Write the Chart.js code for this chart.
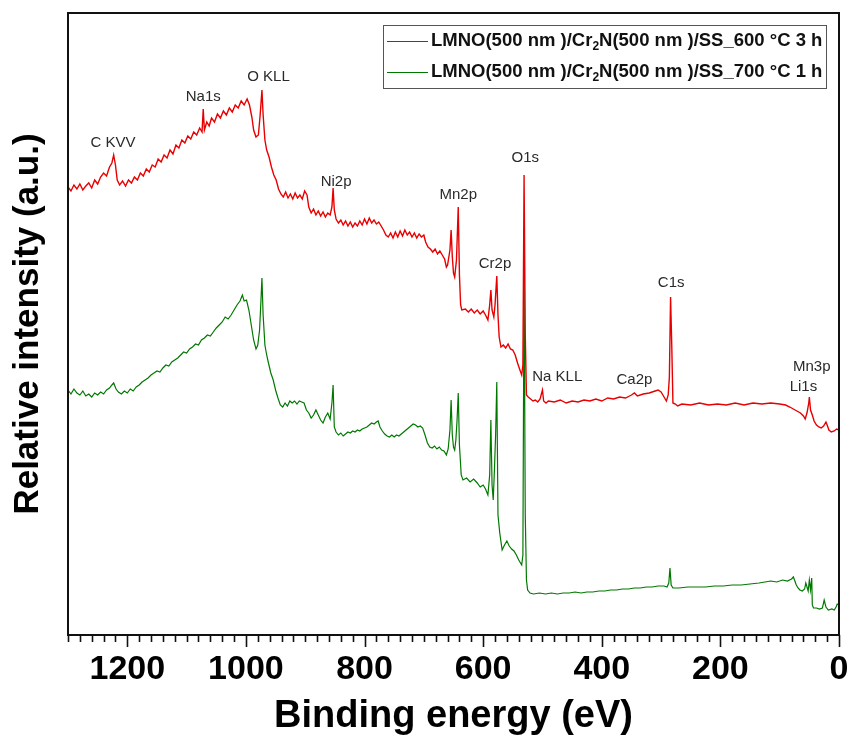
<!DOCTYPE html>
<html><head><meta charset="utf-8">
<script src="https://cdn.jsdelivr.net/npm/chart.js@4.4.1/dist/chart.umd.min.js"></script>
<style>html,body{margin:0;padding:0;background:#fff;}canvas{display:block;}</style>
</head><body>
<canvas id="c" width="849" height="740"></canvas>
<script>
// ---- data (binding energy in eV, intensity in arbitrary units) ----
const seriesNames = ['LMNO(500 nm )/Cr\u2082N(500 nm )/SS_600 \u00B0C 3 h',
                     'LMNO(500 nm )/Cr\u2082N(500 nm )/SS_700 \u00B0C 1 h'];
const xTickLabels = [1200, 1000, 800, 600, 400, 200, 0];

const energyRed = [
1300,1295,1290,1285,1280,1275,1270,1265,1260,1255,
1250,1245,1240,1235,1230,1226,1223,1220,1217,1213,
1208,1203,1198,1193,1188,1183,1178,1173,1168,1163,
1158,1153,1148,1143,1138,1133,1128,1123,1118,1113,
1108,1103,1098,1093,1088,1083,1078,1074,1072,1070,
1066,1062,1058,1053,1048,1043,1038,1033,1028,1023,
1018,1013,1008,1003,998,994,990,987,983,979,
976,973,971,968,965,961,957,953,949,945,
941,937,933,929,925,921,917,913,909,905,
901,897,894,890,886,882,878,874,870,866,
862,858,855,853,851,848,844,840,836,832,
828,824,820,816,812,808,804,800,796,792,
788,784,780,776,772,768,764,760,756,752,
748,744,740,736,732,728,724,720,716,712,
708,704,700,697,693,689,685,681,677,673,
669,665,662,660,656,654,652,650,648,645,
642,640,638,636,630,625,620,615,610,605,
600,596,592,589,587,585,582,580,577,575,
573,570,566,562,558,554,550,546,542,538,
535,533,531,529,527,524,520,516,512,508,
504,500,498,494,490,480,470,460,450,440,
430,420,410,400,390,380,370,360,350,345,
340,330,320,310,305,300,295,291,288,286,
284,282,280,276,272,265,250,235,220,205,
190,175,160,145,130,115,100,90,83,77,
71,65,60,57,54,51,50,48,45,42,
38,34,30,26,22,20,17,13,8,4,
0];
const intensityRed = [
448,444,450,446,451,445,449,452,447,455,
451,458,462,459,468,472,480,470,455,450,
454,449,455,452,458,455,462,459,466,463,
470,468,476,473,480,477,485,481,490,487,
495,492,499,496,503,500,507,503,526,505,
513,509,517,513,521,517,524,520,527,523,
530,527,534,530,536,530,518,505,498,500,
520,545,520,495,485,478,468,460,455,446,
441,438,443,437,441,436,442,437,440,436,
444,440,428,422,426,420,424,419,423,418,
422,420,428,447,425,416,412,415,410,414,
409,413,408,412,409,414,410,416,411,417,
412,415,411,413,409,405,400,398,402,397,
403,398,404,399,405,400,403,398,402,397,
401,398,400,393,388,386,383,386,381,384,
380,376,368,370,385,405,378,362,358,375,
428,360,330,325,326,323,326,322,325,321,
324,320,315,330,345,325,318,330,359,320,
298,288,290,287,291,286,285,280,272,265,
260,270,460,300,240,238,236,234,235,233,
236,245,234,232,234,233,235,232,234,233,
235,234,236,234,237,236,238,237,240,242,
239,241,242,244,245,243,238,234,240,258,
338,290,232,231,229,231,230,232,230,231,
230,232,230,232,231,232,231,230,228,226,
224,222,219,216,222,232,238,225,220,214,
210,208,207,209,213,210,205,203,204,206,
205];

const energyGreen = [
1300,1295,1290,1285,1280,1275,1270,1265,1260,1255,
1250,1245,1240,1235,1230,1226,1223,1219,1215,1210,
1205,1200,1195,1190,1185,1180,1175,1170,1165,1160,
1155,1150,1145,1140,1135,1130,1125,1120,1115,1110,
1105,1100,1095,1090,1085,1080,1075,1070,1065,1060,
1055,1050,1045,1040,1035,1030,1025,1020,1015,1010,
1006,1003,999,995,991,987,983,980,977,975,
973,971,968,965,962,958,954,950,946,942,
938,934,930,926,922,918,914,910,906,902,
898,894,890,886,882,878,874,870,866,862,
858,855,853,851,848,844,840,836,832,828,
824,820,816,812,808,804,800,796,792,788,
784,780,777,774,770,766,762,758,754,750,
746,742,738,734,730,726,722,718,714,710,
706,702,698,694,690,686,682,678,674,670,
666,662,659,656,654,652,650,648,646,644,
642,640,637,634,628,622,616,610,605,600,
596,592,589,587,585,583,581,579,577,575,
572,568,564,560,556,552,548,544,540,537,
535,533,531,529,527,525,521,515,505,495,
485,475,465,455,445,435,425,415,405,395,
385,375,365,355,345,335,325,315,305,295,
290,287,285,283,280,270,255,240,225,210,
195,180,165,150,135,125,115,105,95,87,
80,77,75,72,69,66,62,58,56,54,
52,50,48,46,45,43,38,33,28,25,
22,18,12,8,5,3,0];
const intensityGreen = [
245,241,246,242,240,244,239,241,238,242,
240,243,241,245,247,250,252,246,243,241,
244,242,246,244,248,250,253,255,257,260,
262,264,263,267,270,269,273,275,277,280,
283,282,286,288,291,290,295,297,300,299,
303,307,310,313,318,316,320,325,330,334,
340,334,335,325,310,295,286,290,305,330,
357,320,290,280,272,262,255,245,237,230,
228,232,229,234,232,234,231,234,233,232,
225,222,217,220,225,220,215,212,218,222,
216,232,250,208,203,200,202,199,201,203,
202,204,203,205,204,206,207,208,210,212,
211,213,214,208,204,201,199,198,200,198,
200,199,201,203,205,207,209,211,210,208,
209,207,200,192,188,187,189,186,188,185,
184,180,186,205,235,200,188,185,195,215,
242,190,160,155,157,153,156,152,148,150,
146,140,160,215,150,135,165,200,253,120,
102,85,90,94,89,86,84,80,75,72,
70,80,367,120,55,45,42,41,42,41,
42,41,42,42,43,42,43,43,44,44,
45,45,46,46,47,47,48,48,49,49,
48,52,67,50,47,47,48,48,48,49,
49,50,50,51,52,53,54,53,55,54,
56,58,55,50,47,45,44,46,52,48,
44,55,45,57,30,27,27,26,27,35,
28,25,26,25,28,31,30];

const peakNames  = ['C KVV','Na1s','O KLL','Ni2p','Mn2p','O1s','Cr2p','C1s','Na KLL','Ca2p','Mn3p','Li1s'];
const peakEnergy = [1224, 1072, 962, 848, 642, 529, 580, 283, 475, 345, 46, 60];
const peakLevel  = [492, 538, 558, 453, 440, 477, 371, 352, 258, 255, 268, 248];

// ---- chart ----
const toPoints = (xs, ys) => xs.map((x, i) => ({x: x, y: ys[i]}));
const seriesColors = ['#e80000', '#007800'];

const frameTicks = {
  id: 'frameTicks',
  afterDraw(chart) {
    const {ctx, chartArea: a} = chart;
    const xs = chart.scales.x;
    ctx.save();
    ctx.strokeStyle = '#111';
    ctx.lineWidth = 2;
    ctx.strokeRect(a.left, a.top, a.right - a.left, a.bottom - a.top);
    ctx.lineWidth = 1.6;
    for (let v = 0; v <= 1300; v += 20) {
      const px = Math.round(xs.getPixelForValue(v)) + 0.5;
      const len = (v % 200 === 0) ? 12 : 7;
      ctx.beginPath();
      ctx.moveTo(px, a.bottom);
      ctx.lineTo(px, a.bottom + len);
      ctx.stroke();
    }
    ctx.restore();
  }
};

const peakText = {
  id: 'peakText',
  afterDatasetsDraw(chart) {
    const {ctx} = chart;
    const xs = chart.scales.x, ys = chart.scales.y;
    ctx.save();
    ctx.font = '15px "Liberation Sans", Arial, sans-serif';
    ctx.fillStyle = '#2a2a2a';
    ctx.textAlign = 'center';
    ctx.textBaseline = 'middle';
    peakNames.forEach((t, i) => {
      ctx.fillText(t, xs.getPixelForValue(peakEnergy[i]), ys.getPixelForValue(peakLevel[i]));
    });
    ctx.restore();
  }
};

const boxLegend = {
  id: 'boxLegend',
  afterDraw(chart) {
    const {ctx} = chart;
    const box = {x: 383, y: 25, w: 443, h: 63};
    ctx.save();
    ctx.fillStyle = '#fff';
    ctx.fillRect(box.x, box.y, box.w, box.h);
    ctx.strokeStyle = '#555';
    ctx.lineWidth = 1;
    ctx.strokeRect(box.x + 0.5, box.y + 0.5, box.w, box.h);
    const big = 'bold 18.5px "Liberation Sans", Arial, sans-serif';
    const small = 'bold 12px "Liberation Sans", Arial, sans-serif';
    chart.data.datasets.forEach((ds, i) => {
      const yc = box.y + 16 + i * 31;
      ctx.strokeStyle = ds.borderColor;
      ctx.lineWidth = 1.2;
      ctx.beginPath();
      ctx.moveTo(box.x + 4, yc + 0.5);
      ctx.lineTo(box.x + 45, yc + 0.5);
      ctx.stroke();
      const parts = ds.label.split('\u2082');
      let x = box.x + 48;
      ctx.fillStyle = '#111';
      ctx.textBaseline = 'middle';
      ctx.textAlign = 'left';
      ctx.font = big;
      ctx.fillText(parts[0], x, yc);
      x += ctx.measureText(parts[0]).width;
      ctx.font = small;
      ctx.fillText('2', x, yc + 6);
      x += ctx.measureText('2').width;
      ctx.font = big;
      ctx.fillText(parts[1], x, yc);
    });
    ctx.restore();
  }
};

new Chart(document.getElementById('c'), {
  type: 'line',
  data: {
    datasets: [
      {label: seriesNames[0], data: toPoints(energyRed, intensityRed), borderColor: seriesColors[0], borderWidth: 1.4},
      {label: seriesNames[1], data: toPoints(energyGreen, intensityGreen), borderColor: seriesColors[1], borderWidth: 1.2}
    ]
  },
  options: {
    responsive: false,
    animation: false,
    devicePixelRatio: 1,
    parsing: false,
    elements: {
      point: {radius: 0},
      line: {tension: 0, fill: false}
    },
    layout: {padding: {left: 0, top: 13, right: 10, bottom: 0}},
    plugins: {legend: {display: false}, tooltip: {enabled: false}},
    scales: {
      x: {
        type: 'linear', min: 0, max: 1300, reverse: true,
        grid: {display: false, drawTicks: false},
        border: {display: false},
        afterBuildTicks(s) { s.ticks = xTickLabels.map(v => ({value: v})); },
        afterFit(s) { s.height = 105; s.paddingLeft = 0; s.paddingRight = 0; },
        ticks: {
          autoSkip: false, maxRotation: 0, padding: 14,
          color: '#000',
          font: {family: '"Liberation Sans Narrow", "Liberation Sans", Arial, sans-serif', size: 34, weight: 'bold'},
          callback: (v) => String(v)
        },
        title: {
          display: true, text: 'Binding energy (eV)', color: '#000',
          font: {family: '"Liberation Sans", Arial, sans-serif', size: 38, weight: 'bold'},
          padding: {top: 0, bottom: 1}
        }
      },
      y: {
        type: 'linear', min: 0, max: 622,
        grid: {display: false, drawTicks: false},
        border: {display: false},
        ticks: {display: false},
        afterFit(s) { s.width = 68; },
        title: {
          display: true, text: 'Relative intensity (a.u.)', color: '#000',
          font: {family: '"Liberation Sans", Arial, sans-serif', size: 35, weight: 'bold'},
          padding: {top: 7, bottom: 0}
        }
      }
    }
  },
  plugins: [frameTicks, peakText, boxLegend]
});
</script>
</body></html>
